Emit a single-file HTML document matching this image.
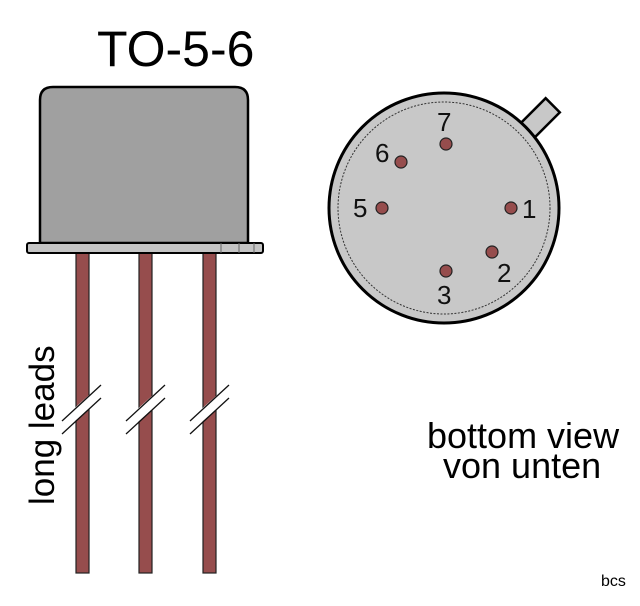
<!DOCTYPE html>
<html><head><style>body{margin:0;background:#fff}</style></head><body>
<svg width="640" height="601" viewBox="0 0 640 601" xmlns="http://www.w3.org/2000/svg" font-family="Liberation Sans, sans-serif">
<rect width="640" height="601" fill="#fff"/>
<text x="97" y="66" font-size="50" fill="#000">TO-5-6</text>
<g fill="#964d4d" stroke="#222" stroke-width="1.2">
<rect x="76" y="252" width="13" height="321"/>
<rect x="139" y="252" width="13" height="321"/>
<rect x="203" y="252" width="13" height="321"/>
</g>
<g stroke="#fff" stroke-width="10">
<line x1="63" y1="425" x2="100" y2="392"/>
<line x1="127" y1="425" x2="164" y2="392"/>
<line x1="191" y1="425" x2="228" y2="392"/>
</g>
<g stroke="#111" stroke-width="1.3">
<line x1="62" y1="421" x2="101" y2="385"/><line x1="62" y1="434" x2="101" y2="398"/>
<line x1="126" y1="421" x2="165" y2="385"/><line x1="126" y1="434" x2="165" y2="398"/>
<line x1="190" y1="421" x2="229" y2="385"/><line x1="190" y1="434" x2="229" y2="398"/>
</g>
<path d="M40 243 V100 Q40 87 53 87 H235 Q248 87 248 100 V243 Z" fill="#a0a0a0" stroke="#000" stroke-width="2.5"/>
<rect x="27" y="243" width="236" height="10" rx="2" fill="#c4c4c4" stroke="#000" stroke-width="2"/>
<g stroke="#666" stroke-width="1"><line x1="221" y1="243" x2="221" y2="253"/><line x1="239" y1="243" x2="239" y2="253"/><line x1="254" y1="243" x2="254" y2="253"/></g>
<text transform="translate(54,505) rotate(-90)" font-size="35" fill="#000">long leads</text>
<g transform="rotate(-45 540 118)"><rect x="522" y="108" width="36" height="20" fill="#c8c8c8" stroke="#000" stroke-width="2.5"/></g>
<circle cx="444" cy="208" r="115" fill="#c8c8c8" stroke="#000" stroke-width="3"/>
<circle cx="444" cy="208" r="106" fill="none" stroke="#333" stroke-width="1" stroke-dasharray="2,1.5"/>
<g fill="#964d4d" stroke="#222" stroke-width="1.2">
<circle cx="446" cy="144" r="6"/><circle cx="401" cy="162" r="6"/><circle cx="382" cy="208" r="6"/>
<circle cx="511" cy="208" r="6"/><circle cx="492" cy="252" r="6"/><circle cx="446" cy="271" r="6"/>
</g>
<g font-size="26" fill="#111">
<text x="437" y="131">7</text><text x="375" y="162">6</text><text x="353" y="217">5</text>
<text x="522" y="218">1</text><text x="497" y="282">2</text><text x="437" y="304">3</text>
</g>
<text x="427" y="448" font-size="36" fill="#000">bottom view</text>
<text x="443" y="478" font-size="36" fill="#000">von unten</text>
<text x="601" y="586" font-size="16" fill="#000">bcs</text>
</svg>
</body></html>
